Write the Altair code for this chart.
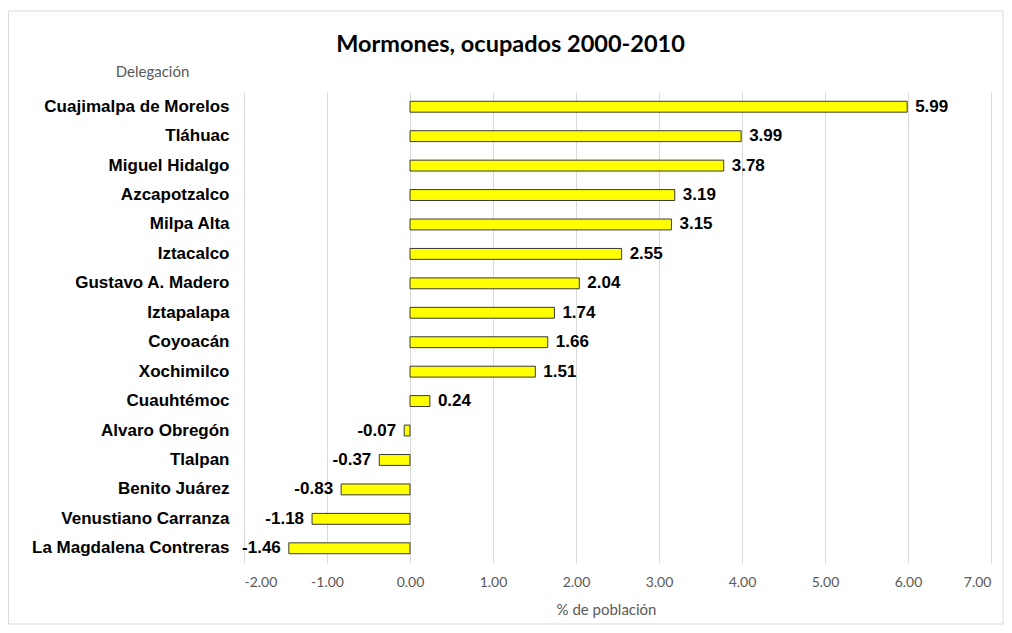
import altair as alt
import pandas as pd

delegaciones = [
    "Cuajimalpa de Morelos", "Tláhuac", "Miguel Hidalgo", "Azcapotzalco",
    "Milpa Alta", "Iztacalco", "Gustavo A. Madero", "Iztapalapa", "Coyoacán",
    "Xochimilco", "Cuauhtémoc", "Alvaro Obregón", "Tlalpan", "Benito Juárez",
    "Venustiano Carranza", "La Magdalena Contreras",
]
valores = [5.99, 3.99, 3.78, 3.19, 3.15, 2.55, 2.04, 1.74, 1.66, 1.51, 0.24,
           -0.07, -0.37, -0.83, -1.18, -1.46]
x_ticks = [-2, -1, 0, 1, 2, 3, 4, 5, 6, 7]

df = pd.DataFrame({"Delegación": delegaciones, "valor": valores})

W, H = 747, 471
PAD = {"left": 236, "top": 84, "right": 13, "bottom": 62}

x_enc = alt.X(
    "valor:Q",
    scale=alt.Scale(domain=[-2, 7], nice=False, zero=False),
    axis=alt.Axis(
        values=x_ticks, format=".2f", title="% de población", grid=True,
        labelExpr="replace(datum.label, '\u2212', '-')",
        gridColor="#d9d9d9", gridWidth=1, domain=False, ticks=False,
        labelFont="Lato", labelFontSize=14, labelColor="#595959", labelPadding=12,
        titleFont="Lato", titleFontSize=15, titleFontWeight="normal",
        titleColor="#595959", titleX=362, titleY=46, titleBaseline="middle",
        titleAlign="center",
    ),
)
y_enc = alt.Y(
    "Delegación:N", sort=None,
    scale=alt.Scale(paddingInner=0.63, paddingOuter=0.315),
    axis=alt.Axis(
        title="Delegación", domain=False, ticks=False, grid=False,
        labelFont="Liberation Sans", labelFontSize=17, labelFontWeight="bold",
        labelColor="#000000", labelPadding=15, labelLimit=300,
        titleFont="Lato", titleFontSize=15, titleFontWeight="normal",
        titleColor="#595959", titleAngle=0, titleX=-92, titleY=-21,
        titleAlign="center", titleBaseline="middle",
    ),
)

bars = alt.Chart(df).mark_bar(
    color="#FFFF00", stroke="#3a3a3a", strokeWidth=1
).encode(x=x_enc, y=y_enc)

lab_style = dict(font="Liberation Sans", fontSize=17, fontWeight="bold",
                 color="#000000", baseline="middle")

base_lab = alt.Chart(df).transform_calculate(
    etiqueta="replace(format(datum.valor, '.2f'), '\u2212', '-')"
)

pos_labels = base_lab.transform_filter("datum.valor >= 0").mark_text(
    align="left", dx=8, **lab_style
).encode(x="valor:Q", y=alt.Y("Delegación:N", sort=None), text="etiqueta:N")

neg_labels = base_lab.transform_filter("datum.valor < 0").mark_text(
    align="right", dx=-8, **lab_style
).encode(x="valor:Q", y=alt.Y("Delegación:N", sort=None), text="etiqueta:N")

frame = alt.Chart(pd.DataFrame({"k": [0]})).mark_rect(
    fillOpacity=0, stroke="#d9d9d9", strokeWidth=1
).encode(
    x=alt.value(-PAD["left"] + 0.5), x2=alt.value(W + PAD["right"] - 1),
    y=alt.value(-81), y2=alt.value(H + PAD["bottom"] - 1),
)

chart = alt.layer(frame, bars, pos_labels, neg_labels).properties(
    width=W, height=H,
    padding=PAD,
    background="white",
    autosize=alt.AutoSizeParams(type="none"),
    title=alt.TitleParams(
        "Mormones, ocupados 2000-2010", anchor="middle", font="Lato",
        fontSize=23.5, fontWeight="bold", color="#000000", dx=-107, dy=52,
        offset=6,
    ),
).configure_view(strokeWidth=0, stroke=None)

chart.save("out.html", embed_options={"renderer": "svg", "actions": False})
